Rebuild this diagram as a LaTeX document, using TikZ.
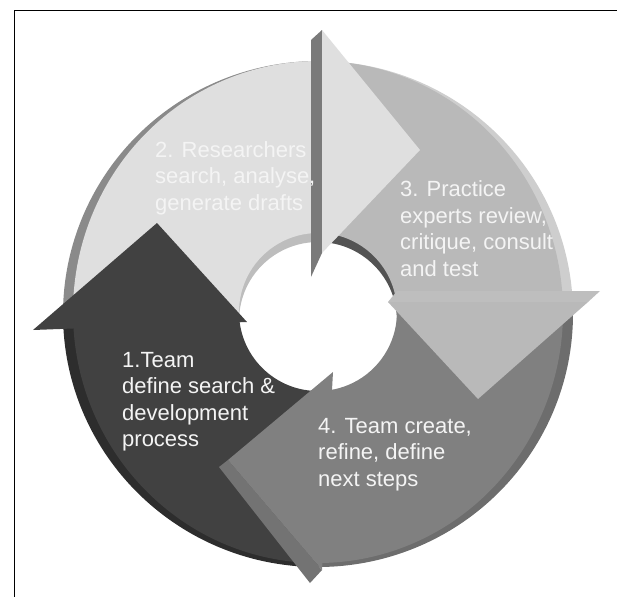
\documentclass[tikz,border=0pt]{standalone}
\usepackage{fontspec}
\setmainfont{Liberation Sans}
\definecolor{teamdark}{HTML}{414141}
\definecolor{researchlight}{HTML}{DFDFDF}
\definecolor{practicegray}{HTML}{B9B9B9}
\definecolor{refinegray}{HTML}{808080}
\definecolor{labelwhite}{HTML}{F4F4F4}
\tikzset{
  steptext/.style={anchor=north west, inner sep=0pt, align=left,
    text=labelwhite, font=\fontsize{22}{26.5}\selectfont},
  frameline/.style={line width=1.6pt, black}
}
% one piece of the ring: angles #1 to #2, outer centre #3 with radii #4/#5,
% inner centre #6 with radius #7
\newcommand\ringband[7]{([shift={#3}]#1:#4 and #5)
  arc[start angle=#1, end angle=#2, x radius=#4, y radius=#5]
  -- ([shift={#6}]#2:#7) arc[start angle=#2, end angle=#1, radius=#7] -- cycle}

\begin{document}
\begin{tikzpicture}[x=1pt, y=-1pt]
  \useasboundingbox (0,0) rectangle (617,597);
  % side faces of the ring
  \fill[teamdark!70!black] \ringband{89.3}{178}{(318,314)}{255}{253}{(318,312)}{150};
  \fill[researchlight!62!black] \ringband{178}{274.1}{(318,314)}{255}{253}{(318,312)}{150};
  \fill[practicegray!70!white] \ringband{274.1}{357.6}{(318,314)}{255}{253}{(318,312)}{150};
  \fill[refinegray!85!black] \ringband{357.6}{449.3}{(318,314)}{255}{253}{(318,312)}{150};
  \fill[teamdark!70!black] \ringband{89.3}{178}{(318,312)}{150}{150}{(318,321)}{79};
  \fill[researchlight!85!black] \ringband{178}{274.1}{(318,312)}{150}{150}{(318,321)}{79};
  \fill[practicegray!45!black] \ringband{274.1}{357.6}{(318,312)}{150}{150}{(318,321)}{79};
  \fill[refinegray!50!black] \ringband{357.6}{449.3}{(318,312)}{150}{150}{(318,321)}{79};
  % top faces of the ring
  \fill[teamdark] \ringband{89.3}{178}{(318,312)}{245}{251}{(318,312)}{79};
  \fill[researchlight] \ringband{178}{274.1}{(318,312)}{245}{251}{(318,312)}{79};
  \fill[practicegray] \ringband{274.1}{357.6}{(318,312)}{245}{251}{(318,312)}{79};
  \fill[refinegray] \ringband{357.6}{449.3}{(318,312)}{245}{251}{(318,312)}{79};
  % arrow heads
  \fill[teamdark] (33,330) -- (157,223) -- (247,322) -- cycle;
  \fill[refinegray!95!black] (311,40) -- (322,30) -- (322,253) -- (311,277) -- cycle;
  \fill[researchlight] (322,30) -- (420,150) -- (322,253) -- cycle;
  \fill[practicegray!92!white] (397,291) -- (600,291) -- (588,302) -- (388,302) -- cycle;
  \fill[practicegray] (388,302) -- (588,302) -- (478,399) -- cycle;
  \fill[refinegray!90!black] (219,467) -- (228,460) -- (322,570) -- (310,583) -- cycle;
  \fill[refinegray] (333,372) -- (322,570) -- (228,460) -- cycle;
  % labels
  \node[steptext] (team) at (122,352) {1.Team\\define search \&\\development\\process};
  \node[steptext] (researchers) at (155,141) {2. Researchers\\search, analyse,\\generate drafts};
  \node[steptext] (practice) at (400,180.5) {3. Practice\\experts review,\\critique, consult\\and test};
  \node[steptext] (refine) at (318,418) {4. Team create,\\refine, define\\next steps};
  % frame
  \draw[frameline] (14,10.5) -- (617,10.5);
  \draw[frameline] (14.5,10) -- (14.5,597);
\end{tikzpicture}
\end{document}
